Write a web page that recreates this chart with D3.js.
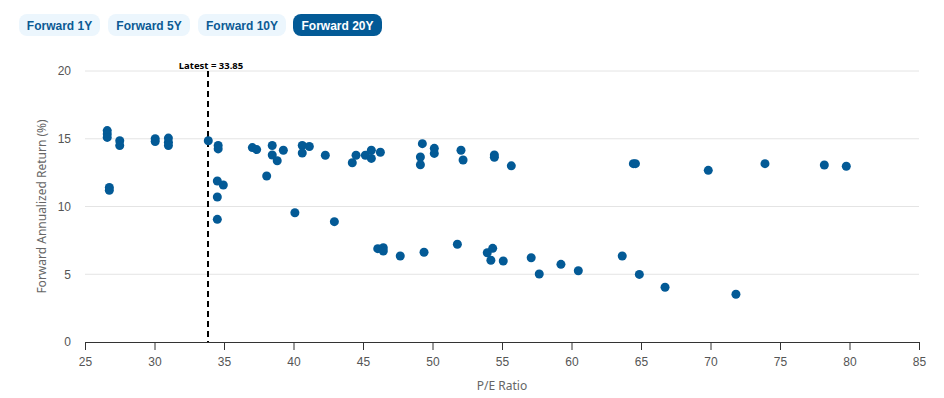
<!DOCTYPE html>
<html>
<head>
<meta charset="utf-8">
<script src="https://cdn.jsdelivr.net/npm/d3@7"></script>
<style>
  body { margin: 0; background: #fff; }
  svg { display: block; font-family: "Noto Sans", sans-serif; }
  .tick text { fill: #555; font-size: 12px; }
  .btn text { font-family: "Liberation Sans", Arial, sans-serif; font-weight: bold; font-size: 12px; }
</style>
</head>
<body>
<svg width="944" height="398"></svg>
<script>
// horizon buttons
var horizons = ['Forward 1Y', 'Forward 5Y', 'Forward 10Y', 'Forward 20Y'];
var activeHorizon = 'Forward 20Y';

// scatter data: P/E ratio vs forward 20Y annualized return (%)
var peRatio = [
  26.6, 26.6, 26.6, 27.5, 27.5, 26.75, 26.75,
  30.05, 30.05, 31.0, 31.0, 31.0, 33.87,
  34.58, 34.58, 34.52, 34.95, 34.52, 34.52,
  37.04, 37.35, 38.47, 38.47, 38.83, 39.27, 38.07,
  40.1, 40.63, 40.63, 41.14, 42.29, 42.94,
  44.23, 44.5, 45.17, 45.6, 45.6, 46.25,
  46.06, 46.46, 46.46, 47.68,
  49.27, 49.13, 49.13, 49.39, 50.13, 50.13,
  51.79, 52.05, 52.2, 53.94, 54.33, 54.2, 54.45, 54.45, 55.09, 55.67,
  57.1, 57.68, 59.24, 60.49, 63.65, 64.45, 64.6, 64.88, 66.73,
  69.84, 71.83, 73.92, 78.19, 79.77
];
var fwdReturn = [
  15.6, 15.35, 15.1, 14.85, 14.5, 11.4, 11.2,
  15.0, 14.8, 15.05, 14.75, 14.5, 14.85,
  14.5, 14.25, 11.88, 11.59, 10.7, 9.05,
  14.35, 14.2, 14.5, 13.8, 13.38, 14.15, 12.25,
  9.54, 14.5, 13.95, 14.43, 13.78, 8.88,
  13.23, 13.78, 13.78, 14.15, 13.55, 14.0,
  6.89, 6.96, 6.72, 6.35,
  14.64, 13.65, 13.08, 6.62, 14.29, 13.92,
  7.21, 14.15, 13.43, 6.59, 6.91, 6.03, 13.8, 13.63, 5.98, 13.0,
  6.22, 5.02, 5.73, 5.26, 6.35, 13.16, 13.16, 4.99, 4.04,
  12.67, 3.52, 13.16, 13.06, 12.97
];
var latestPE = 33.85;
var xTicks = [25, 30, 35, 40, 45, 50, 55, 60, 65, 70, 75, 80, 85];
var yTicks = [0, 5, 10, 15, 20];

var svg = d3.select('svg');
var plotLeft = 85, plotRight = 919, plotTop = 71, plotBottom = 342;
var blue = '#035a96';

var x = d3.scaleLinear().domain([25, 85]).range([plotLeft, plotRight]);
var y = d3.scaleLinear().domain([0, 20]).range([plotBottom, plotTop]);

// buttons
var btnX = [19, 108, 198, 293];
var btnW = [81, 82, 88, 89];
var btns = svg.selectAll('g.btn')
    .data(horizons)
  .enter().append('g')
    .attr('class', 'btn')
    .attr('transform', function(d, i) { return 'translate(' + btnX[i] + ',14)'; });
btns.append('rect')
  .attr('width', function(d, i) { return btnW[i]; })
  .attr('height', 22)
  .attr('rx', 8)
  .attr('fill', function(d) { return d == activeHorizon ? blue : '#ecf6fd'; });
btns.append('text')
  .text(function(d) { return d; })
  .attr('x', function(d, i) { return btnW[i] / 2; })
  .attr('y', 15.5)
  .attr('text-anchor', 'middle')
  .attr('fill', function(d) { return d == activeHorizon ? '#fff' : '#0b5a94'; });

// gridlines
svg.append('g')
  .selectAll('line')
    .data(yTicks.filter(function(t) { return t > 0; }))
  .enter().append('line')
    .attr('x1', plotLeft).attr('x2', plotRight)
    .attr('y1', function(t) { return y(t); })
    .attr('y2', function(t) { return y(t); })
    .attr('stroke', '#e4e4e4');

// y axis labels
var yAxis = svg.append('g')
  .attr('transform', 'translate(' + plotLeft + ',0)')
  .call(d3.axisLeft(y).tickValues(yTicks).tickSize(0).tickPadding(14));
yAxis.select('.domain').remove();

// x axis
var xAxis = svg.append('g')
  .attr('transform', 'translate(0,' + plotBottom + ')')
  .call(d3.axisBottom(x).tickValues(xTicks).tickSize(8).tickPadding(7).tickSizeOuter(0));
xAxis.select('.domain').attr('stroke', '#333').attr('stroke-width', 1.2);
xAxis.selectAll('.tick line').attr('stroke', '#333');

// axis titles
svg.append('text')
  .text('P/E Ratio')
  .attr('x', (plotLeft + plotRight) / 2)
  .attr('y', 390)
  .attr('text-anchor', 'middle')
  .attr('fill', '#666')
  .attr('font-size', 12);
svg.append('text')
  .text('Forward Annualized Return (%)')
  .attr('transform', 'translate(46,' + ((plotTop + plotBottom) / 2) + ') rotate(-90)')
  .attr('text-anchor', 'middle')
  .attr('fill', '#666')
  .attr('font-size', 12);

// latest line
svg.append('line')
  .attr('x1', x(latestPE)).attr('x2', x(latestPE))
  .attr('y1', plotTop).attr('y2', plotBottom)
  .attr('stroke', '#000')
  .attr('stroke-width', 2)
  .attr('stroke-dasharray', '6,4');
svg.append('text')
  .text('Latest = ' + latestPE)
  .attr('x', x(latestPE) + 3)
  .attr('y', 69)
  .attr('text-anchor', 'middle')
  .attr('font-size', 9.5)
  .attr('font-weight', 'bold')
  .attr('fill', '#000');

// points
svg.append('g')
  .selectAll('circle')
    .data(peRatio)
  .enter().append('circle')
    .attr('cx', function(d) { return x(d); })
    .attr('cy', function(d, i) { return y(fwdReturn[i]); })
    .attr('r', 4.5)
    .attr('fill', blue);
</script>
</body>
</html>
